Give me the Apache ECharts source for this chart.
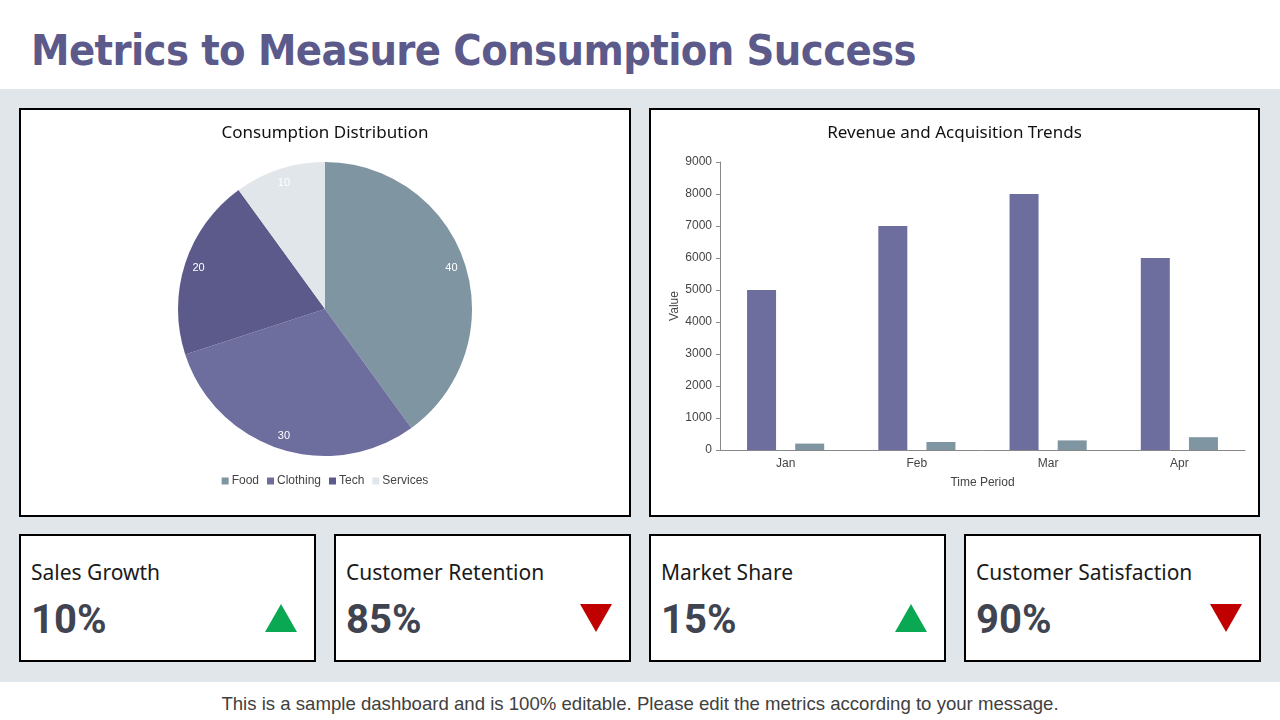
<!DOCTYPE html>
<html>
<head>
<meta charset="utf-8">
<script src="https://cdn.jsdelivr.net/npm/echarts@6/dist/echarts.min.js"></script>
<style>
  body { margin: 0; width: 1280px; height: 720px; position: relative; background: #fff; overflow: hidden; }
  .header { position: absolute; left: 0; top: 0; width: 1280px; height: 89px; background: #fff; }
  .header h1 { position: absolute; left: 31px; top: 27px; margin: 0; font-family: "DejaVu Sans Condensed", "DejaVu Sans"; font-weight: bold; font-size: 43px; line-height: 1.1; color: #5b5a8b; letter-spacing: -0.6px; }
  .band { position: absolute; left: 0; top: 89px; width: 1280px; height: 593px; background: #e1e6ea; }
  .panel { position: absolute; box-sizing: border-box; border: 2px solid #000; background: #fff; }
  .chart { position: absolute; left: 0; top: 0; width: 100%; height: 100%; }
  .kpi-label { position: absolute; left: 10px; top: 22px; font-family: "Noto Sans"; font-size: 21px; color: #1a1a1a; }
  .kpi-value { position: absolute; left: 10px; top: 60px; font-family: Roboto; font-weight: bold; font-size: 40px; color: #3f4450; }
  .tri { position: absolute; right: 17px; top: 68px; width: 0; height: 0; border-left: 16px solid transparent; border-right: 16px solid transparent; }
  .tri.up { border-bottom: 28px solid #0aa852; }
  .tri.down { border-top: 28px solid #c00000; }
  .footer { position: absolute; left: 0; top: 693px; width: 1280px; text-align: center; font-family: "Liberation Sans"; font-size: 18.6px; color: #404040; }
</style>
</head>
<body>
<div class="header"><h1>Metrics to Measure Consumption Success</h1></div>
<div class="band"></div>
<div class="panel" style="left:19px; top:108px; width:612px; height:409px;"><div id="pie" class="chart"></div></div>
<div class="panel" style="left:649px; top:108px; width:611px; height:409px;"><div id="bar" class="chart"></div></div>
<div id="kpis"></div>
<div class="footer">This is a sample dashboard and is 100% editable. Please edit the metrics according to your message.</div>
<script>
// pie data
const pieNames = ['Food', 'Clothing', 'Tech', 'Services'];
const pieValues = [40, 30, 20, 10];
const pieColors = ['#7f95a1', '#6e6e9e', '#5c5a8a', '#e1e6ea'];

// bar data
const months = ['Jan', 'Feb', 'Mar', 'Apr'];
const revenue = [5000, 7000, 8000, 6000];
const acquisition = [200, 250, 300, 400];

// kpi cards
const kpiLabels = ['Sales Growth', 'Customer Retention', 'Market Share', 'Customer Satisfaction'];
const kpiValues = ['10%', '85%', '15%', '90%'];
const kpiTrend = ['up', 'down', 'up', 'down'];
const kpiLeft = [19, 334, 649, 964];

const kpiBox = document.getElementById('kpis');
kpiLabels.forEach((label, i) => {
    const card = document.createElement('div');
    card.className = 'panel';
    card.style.cssText = `left:${kpiLeft[i]}px; top:534px; width:297px; height:128px;`;
    card.innerHTML = `<div class="kpi-label">${label}</div><div class="kpi-value">${kpiValues[i]}</div><div class="tri ${kpiTrend[i]}"></div>`;
    kpiBox.appendChild(card);
});

const pieData = pieNames.map((name, i) => ({ name: name, value: pieValues[i] }));

const pieChart = echarts.init(document.getElementById('pie'));
pieChart.setOption({
    animation: false,
    color: pieColors,
    title: {
        text: 'Consumption Distribution',
        left: 'center',
        top: 10,
        textStyle: { fontFamily: 'Noto Sans', fontSize: 17, fontWeight: 'normal', color: '#111' }
    },
    legend: {
        data: pieNames,
        left: 'center',
        top: 360,
        icon: 'rect',
        itemWidth: 7,
        itemHeight: 7,
        itemGap: 8,
        textStyle: { fontFamily: 'Liberation Sans', fontSize: 12, color: '#444', padding: [0, 0, 0, -2] }
    },
    series: [
        {
            type: 'pie',
            center: [304, 199],
            radius: [0, 147],
            startAngle: 90,
            clockwise: true,
            label: { show: false },
            labelLine: { show: false },
            data: pieData
        },
        {
            // transparent ring only used to place the value labels near the rim
            type: 'pie',
            silent: true,
            center: [304, 199],
            radius: [0, 260],
            startAngle: 90,
            clockwise: true,
            itemStyle: { color: 'rgba(0,0,0,0)' },
            label: { show: true, position: 'inside', formatter: '{c}', color: '#fff', fontFamily: 'Liberation Sans', fontSize: 11 },
            labelLine: { show: false },
            data: pieData
        }
    ]
});

const barChart = echarts.init(document.getElementById('bar'));
barChart.setOption({
    animation: false,
    title: {
        text: 'Revenue and Acquisition Trends',
        left: 'center',
        top: 10,
        textStyle: { fontFamily: 'Noto Sans', fontSize: 17, fontWeight: 'normal', color: '#111' }
    },
    grid: { left: 69, top: 52, width: 525, height: 288 },
    xAxis: {
        type: 'category',
        data: months,
        name: 'Time Period',
        nameLocation: 'middle',
        nameGap: 27,
        nameTextStyle: { fontFamily: 'Liberation Sans', fontSize: 12, color: '#444' },
        axisLine: { lineStyle: { color: '#888' } },
        axisTick: { lineStyle: { color: '#888' }, length: 4 },
        axisLabel: { fontFamily: 'Liberation Sans', fontSize: 12, color: '#444', margin: 8 }
    },
    yAxis: {
        type: 'value',
        min: 0,
        max: 9000,
        interval: 1000,
        name: 'Value',
        nameLocation: 'middle',
        nameGap: 39,
        nameMoveOverlap: false,
        nameTextStyle: { fontFamily: 'Liberation Sans', fontSize: 12, color: '#444' },
        axisLine: { show: true, lineStyle: { color: '#888' } },
        axisTick: { show: true, lineStyle: { color: '#888' }, length: 4 },
        axisLabel: { fontFamily: 'Liberation Sans', fontSize: 12, color: '#444', margin: 8, formatter: v => String(v) },
        splitLine: { show: false }
    },
    series: [
        {
            name: 'Revenue',
            type: 'bar',
            data: revenue,
            barWidth: 29,
            barGap: '66%',
            itemStyle: { color: '#6e6e9e' }
        },
        {
            name: 'Acquisition',
            type: 'bar',
            data: acquisition,
            barWidth: 29,
            itemStyle: { color: '#7f95a1' }
        }
    ]
});
</script>
</body>
</html>
